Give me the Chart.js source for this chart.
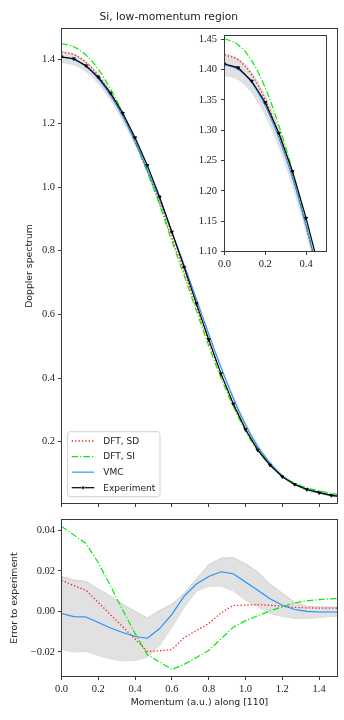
<!DOCTYPE html>
<html><head><meta charset="utf-8">
<script src="https://cdn.jsdelivr.net/npm/chart.js@4.4.1/dist/chart.umd.min.js"></script>
<style>
html,body{margin:0;padding:0;background:#fff;width:344px;height:720px;overflow:hidden}
canvas{position:absolute;display:block}
</style></head><body>
<canvas id="main" width="344" height="510" style="left:0;top:0"></canvas>
<canvas id="err" width="344" height="220" style="left:0;top:500px"></canvas>
<canvas id="inset" width="152" height="250" style="left:186px;top:26px"></canvas>
<script>
// ---- data ----
const momentum = [0, 0.0667, 0.1333, 0.2, 0.2667, 0.3333, 0.4, 0.4667, 0.5333, 0.6, 0.6667, 0.7333,
  0.8, 0.8667, 0.9333, 1.0, 1.0667, 1.1333, 1.2, 1.2667, 1.3333, 1.4, 1.4667, 1.5333];
const experiment = [1.409, 1.403, 1.381, 1.3455, 1.295, 1.232, 1.155, 1.068, 0.969, 0.859, 0.748, 0.634,
  0.521, 0.414, 0.319, 0.2385, 0.1736, 0.1266, 0.090, 0.066, 0.050, 0.040, 0.0314, 0.027];
const errDFTSD = [0.0153, 0.0128, 0.0104, 0.0044, -0.0017, -0.0077, -0.0137, -0.0198, -0.0195, -0.0189, -0.0130, -0.0095,
  -0.0060, -0.0008, 0.0029, 0.0031, 0.0033, 0.0030, 0.0025, 0.0020, 0.0017, 0.0016, 0.0016, 0.0016];
const errDFTSI = [0.0420, 0.0378, 0.0335, 0.0240, 0.0125, 0.0005, -0.0110, -0.0215, -0.0250, -0.0287, -0.0262, -0.0228,
  -0.0193, -0.0136, -0.0079, -0.0046, -0.0022, 0.0003, 0.0022, 0.0042, 0.0052, 0.0058, 0.0062, 0.0063];
const errVMC = [-0.0011, -0.0026, -0.0028, -0.0055, -0.0082, -0.0105, -0.0124, -0.0133, -0.0085, -0.0015, 0.0075, 0.0135,
  0.0172, 0.0196, 0.0186, 0.0145, 0.0104, 0.0062, 0.0030, 0.0009, 0.0000, -0.0003, -0.0003, -0.0003];
const errBandLow = [-0.0188, -0.0201, -0.0198, -0.0218, -0.0235, -0.0245, -0.0242, -0.0226, -0.0170, -0.0077, 0.0020, 0.0100,
  0.0124, 0.0125, 0.0102, 0.0055, 0.0022, -0.0010, -0.0025, -0.0035, -0.0036, -0.0030, -0.0025, -0.0022];
const errBandHigh = [0.0173, 0.0155, 0.0148, 0.0110, 0.0075, 0.0035, 0.0000, -0.0033, 0.0005, 0.0035, 0.0090, 0.0160,
  0.0230, 0.0263, 0.0266, 0.0235, 0.0195, 0.0135, 0.0090, 0.0045, 0.0025, 0.0022, 0.0021, 0.0020];
const seriesNames = ['DFT, SD', 'DFT, SI', 'VMC', 'Experiment'];
const mainYTicks = [0.2, 0.4, 0.6, 0.8, 1.0, 1.2, 1.4];
const xTicks = [0, 0.2, 0.4, 0.6, 0.8, 1.0, 1.2, 1.4];
const insetYTicks = [1.10, 1.15, 1.20, 1.25, 1.30, 1.35, 1.40, 1.45];
const insetXTicks = [0, 0.2, 0.4];
const errYTicks = [-0.02, 0, 0.02, 0.04];
const titleText = 'Si, low-momentum region';
const mainYLabel = 'Doppler spectrum';
const errYLabel = 'Error to experiment';
const xLabel = 'Momentum (a.u.) along [110]';

// ---- helpers ----
const pts = ys => momentum.map((x, i) => ({x, y: ys[i]}));
const add = (a, b) => a.map((v, i) => v + b[i]);
const SERIF = "'Liberation Serif','DejaVu Serif',serif";
const SANS = "'DejaVu Sans','Open Sans',sans-serif";
const FRAME = '#3a3a3a';
const TXT = '#222';
const STY = [
  {borderColor: '#ff1a1a', borderWidth: 1.3, borderDash: [1.3, 2.1]},
  {borderColor: '#00ee00', borderWidth: 1.2, borderDash: [6.5, 2, 1.2, 2]},
  {borderColor: '#1e8fff', borderWidth: 1.1, borderDash: []},
  {borderColor: '#000000', borderWidth: 1.2, borderDash: []}
];

function buildSets(errMode) {
  const base = errMode ? momentum.map(() => 0) : experiment;
  const smooth = errMode ? 'default' : 'monotone';
  const common = {pointRadius: 0, fill: false, tension: 0, cubicInterpolationMode: smooth};
  const sets = [
    Object.assign({}, common, {label: 'band-low', data: pts(add(base, errBandLow)),
      borderColor: errMode ? 'rgba(195,195,195,0.9)' : 'rgba(200,200,200,0.6)', borderWidth: errMode ? 0.8 : 0.5, order: 10}),
    Object.assign({}, common, {label: 'band-high', data: pts(add(base, errBandHigh)),
      borderColor: errMode ? 'rgba(195,195,195,0.9)' : 'rgba(200,200,200,0.6)', borderWidth: errMode ? 0.8 : 0.5,
      fill: '-1', backgroundColor: '#e1e1e1', order: 9}),
    Object.assign({}, common, STY[0], {label: seriesNames[0], data: pts(add(base, errDFTSD)), order: 4}),
    Object.assign({}, common, STY[1], {label: seriesNames[1], data: pts(add(base, errDFTSI)), order: 3}),
    Object.assign({}, common, STY[2], {label: seriesNames[2], data: pts(add(base, errVMC)), order: 2})
  ];
  if (!errMode) {
    sets.push(Object.assign({}, STY[3], {label: seriesNames[3], data: pts(experiment), fill: false, tension: 0,
      pointStyle: 'triangle', rotation: 180, pointRadius: 1.8, pointBorderWidth: 0.8,
      pointBackgroundColor: '#000', pointBorderColor: '#000', order: 1}));
  }
  return sets;
}

const framePlugin = {
  id: 'frame',
  afterDatasetsDraw(chart) {
    const a = chart.chartArea, ctx = chart.ctx;
    ctx.save();
    ctx.strokeStyle = FRAME; ctx.lineWidth = 1;
    ctx.strokeRect(a.left, a.top, a.right - a.left, a.bottom - a.top);
    ctx.restore();
  }
};

const legendPlugin = {
  id: 'boxLegend',
  afterDatasetsDraw(chart, args, opts) {
    if (!opts || !opts.show) return;
    const a = chart.chartArea, ctx = chart.ctx;
    const w = 92.3, h = 65;
    const x0 = a.left + 6.2, y0 = a.bottom - 6.8 - h;
    ctx.save();
    ctx.beginPath();
    ctx.roundRect(x0, y0, w, h, 2.5);
    ctx.fillStyle = 'rgba(255,255,255,0.85)';
    ctx.fill();
    ctx.strokeStyle = '#d0d0d0'; ctx.lineWidth = 1;
    ctx.stroke();
    ctx.font = '9px ' + SANS;
    ctx.textBaseline = 'middle';
    ctx.textAlign = 'left';
    seriesNames.forEach((name, i) => {
      const ds = chart.data.datasets.find(d => d.label === name);
      const y = y0 + 9.3 + i * 15.57;
      ctx.save();
      ctx.strokeStyle = ds.borderColor; ctx.lineWidth = ds.borderWidth;
      ctx.setLineDash(ds.borderDash || []);
      ctx.beginPath(); ctx.moveTo(x0 + 4, y); ctx.lineTo(x0 + 26.6, y); ctx.stroke();
      ctx.restore();
      if (ds.pointStyle) {
        Chart.helpers.drawPoint(ctx, {pointStyle: ds.pointStyle, rotation: 180, radius: 1.8, borderWidth: 0.8}, x0 + 15.3, y);
        ctx.fillStyle = '#000'; ctx.fill();
      }
      ctx.fillStyle = TXT;
      ctx.fillText(name, x0 + 35.6, y + 0.5);
    });
    ctx.restore();
  }
};

function xScale(min, max, ticks, height, showLabels, title) {
  return {
    type: 'linear', min, max,
    afterBuildTicks: s => { s.ticks = ticks.map(v => ({value: v})); },
    afterFit: s => { s.height = height; s.paddingLeft = 0; s.paddingRight = 0; },
    border: {display: false},
    grid: {drawOnChartArea: false, drawTicks: true, tickLength: 3.5, color: FRAME, lineWidth: 1},
    ticks: {display: showLabels, padding: 3, color: TXT, font: {family: SERIF, size: 10.5},
      maxRotation: 0, autoSkip: false, callback: v => v.toFixed(1)},
    title: title ? {display: true, text: title, color: TXT, font: {family: SANS, size: 9.3}, padding: {top: 0, bottom: 11.4}} : {display: false}
  };
}
function yScale(min, max, ticks, width, fmt, title, titlePad, tickPad) {
  return {
    type: 'linear', min, max,
    afterBuildTicks: s => { s.ticks = ticks.map(v => ({value: v})); },
    afterFit: s => { s.width = width; s.paddingTop = 0; s.paddingBottom = 0; },
    border: {display: false},
    grid: {drawOnChartArea: false, drawTicks: true, tickLength: 3.5, color: FRAME, lineWidth: 1},
    ticks: {padding: tickPad, color: TXT, font: {family: SERIF, size: 10.5}, autoSkip: false, callback: fmt},
    title: title ? {display: true, text: title, color: TXT, font: {family: SANS, size: 9.3}, padding: {top: titlePad, bottom: 0}} : {display: false}
  };
}
const baseOpts = {responsive: false, animation: false, devicePixelRatio: 1,
  plugins: {legend: {display: false}, tooltip: {enabled: false}}};

// main panel
new Chart(document.getElementById('main'), {
  type: 'line',
  data: {datasets: buildSets(false)},
  options: Object.assign({}, baseOpts, {
    layout: {padding: {left: 0, right: 6.5, top: 0, bottom: 0}},
    plugins: {legend: {display: false}, tooltip: {enabled: false},
      title: {display: true, text: titleText, color: TXT, font: {family: SANS, size: 10.75, weight: 'normal'}, padding: {top: 10.8, bottom: 4.8}},
      boxLegend: {show: true}},
    scales: {
      x: xScale(0, 1.5, xTicks, 6.5, false, null),
      y: yScale(0.006, 1.498, mainYTicks, 61.5, v => v.toFixed(1), mainYLabel, 24.4, 3)
    }
  }),
  plugins: [framePlugin, legendPlugin]
});

// inset
new Chart(document.getElementById('inset'), {
  type: 'line',
  data: {datasets: buildSets(false)},
  options: Object.assign({}, baseOpts, {
    layout: {padding: {left: 0, right: 11.5, top: 9.5, bottom: 0}},
    scales: {
      x: xScale(0, 0.5, insetXTicks, 24.5, true, null),
      y: yScale(1.10, 1.456, insetYTicks, 38.5, v => v.toFixed(2), null, 0, 4)
    }
  }),
  plugins: [{id: 'whitebg', beforeDraw(c) { const a = c.chartArea; c.ctx.save(); c.ctx.fillStyle = '#fff';
    c.ctx.fillRect(a.left, a.top, a.right - a.left, a.bottom - a.top); c.ctx.restore(); }}, framePlugin]
});

// error panel
new Chart(document.getElementById('err'), {
  type: 'line',
  data: {datasets: buildSets(true)},
  options: Object.assign({}, baseOpts, {
    layout: {padding: {left: 0, right: 6.5, top: 19.5, bottom: 0}},
    scales: {
      x: xScale(0, 1.5, xTicks, 43.5, true, xLabel),
      y: yScale(-0.0322, 0.0454, errYTicks, 61.5, v => (v < 0 ? '\u2212' : '') + Math.abs(v).toFixed(2), errYLabel, 9.4, 3)
    }
  }),
  plugins: [framePlugin]
});
</script>
</body></html>
